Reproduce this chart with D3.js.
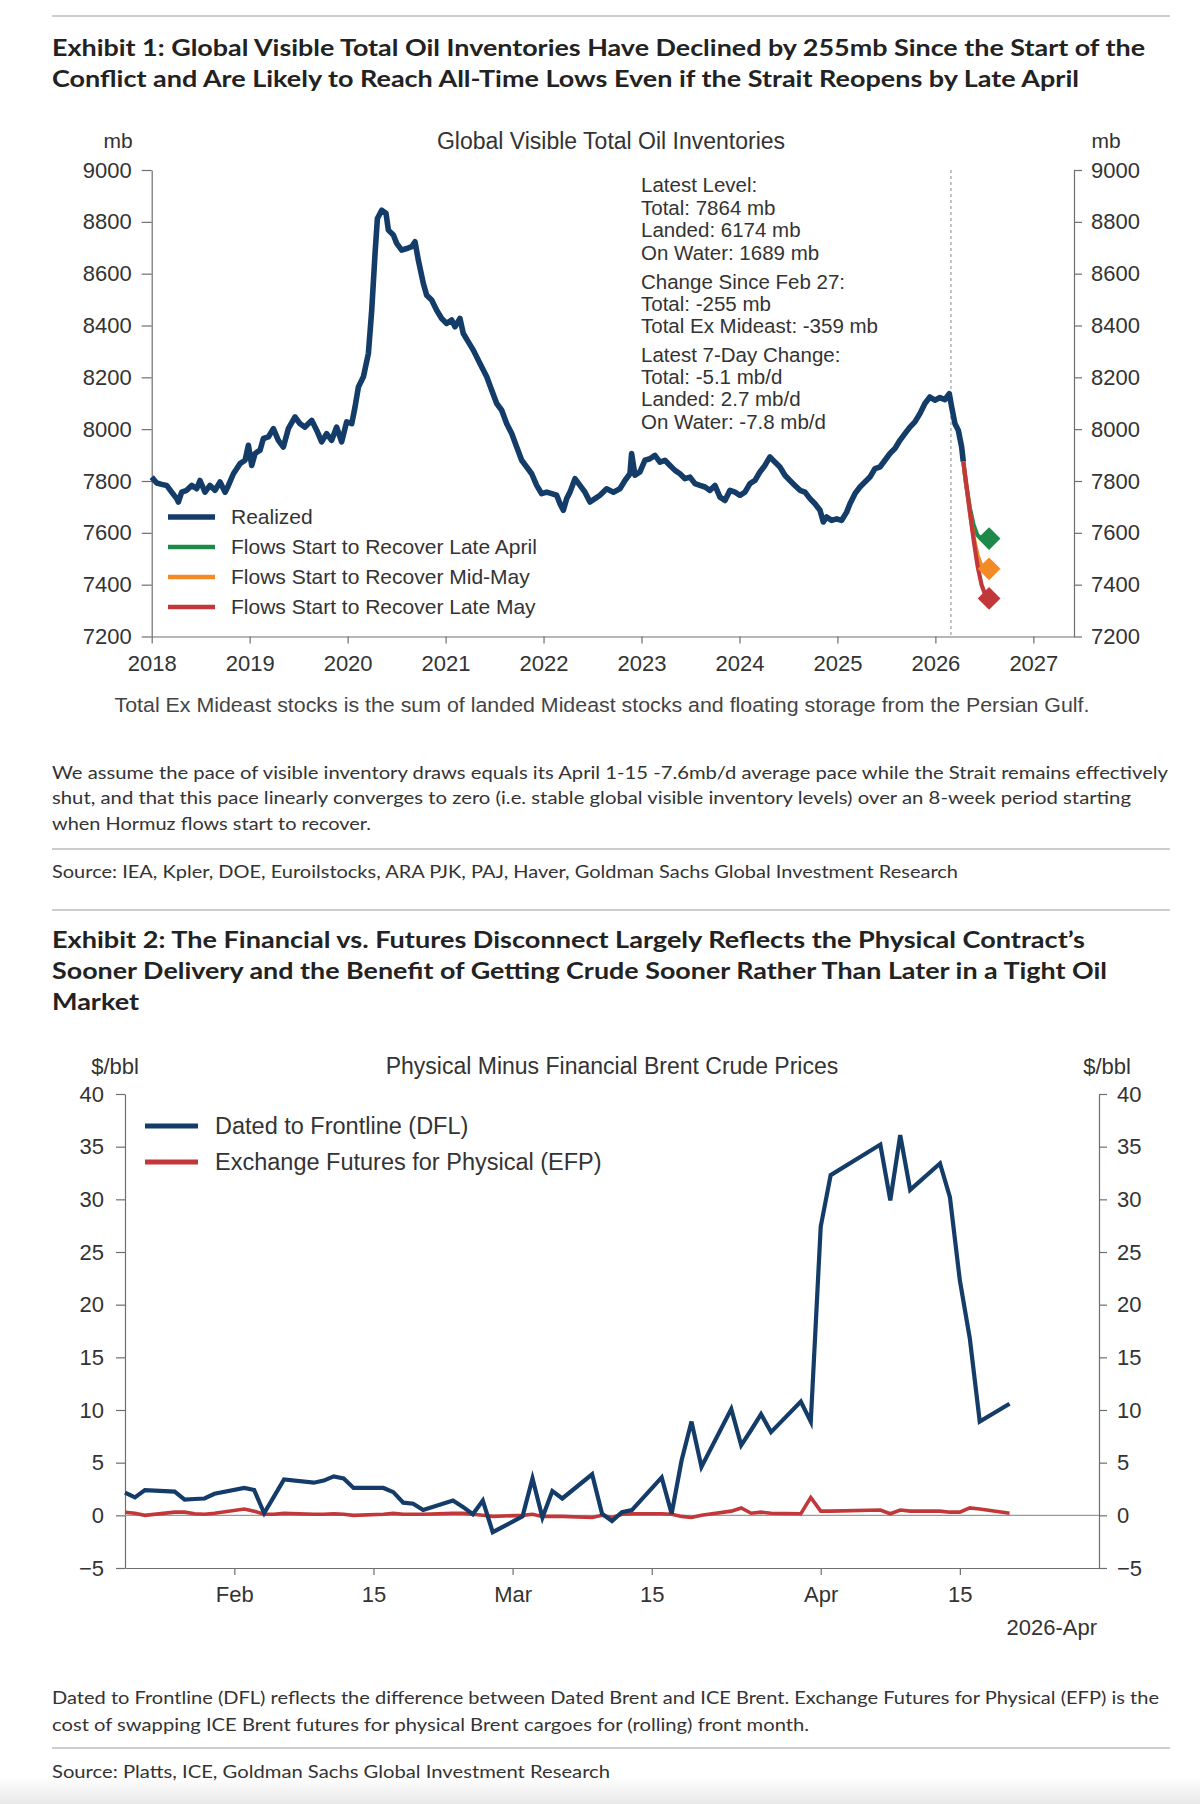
<!DOCTYPE html>
<html>
<head>
<meta charset="utf-8">
<script src="https://d3js.org/d3.v7.min.js"></script>
<style>
  body { margin: 0; background: #fff; }
  svg { display: block; }
</style>
</head>
<body>
<script>
// ---------- Exhibit 1 data: global visible total oil inventories (mb), x in decimal years
var invYears = [
  2018.000, 2018.051, 2018.102, 2018.153, 2018.204, 2018.255, 2018.272, 2018.306, 2018.357, 2018.408,
  2018.459, 2018.493, 2018.544, 2018.595, 2018.646, 2018.698, 2018.749, 2018.783, 2018.834, 2018.902,
  2018.953, 2018.987, 2019.021, 2019.055, 2019.106, 2019.140, 2019.191, 2019.242, 2019.293, 2019.344,
  2019.395, 2019.463, 2019.514, 2019.565, 2019.633, 2019.684, 2019.735, 2019.786, 2019.837, 2019.888,
  2019.939, 2019.990, 2020.042, 2020.076, 2020.110, 2020.161, 2020.212, 2020.246, 2020.280, 2020.304,
  2020.348, 2020.392, 2020.416, 2020.467, 2020.501, 2020.552, 2020.603, 2020.654, 2020.688, 2020.722,
  2020.773, 2020.807, 2020.858, 2020.909, 2020.960, 2021.011, 2021.062, 2021.096, 2021.147, 2021.181,
  2021.232, 2021.283, 2021.351, 2021.420, 2021.471, 2021.522, 2021.573, 2021.624, 2021.675, 2021.726,
  2021.777, 2021.828, 2021.879, 2021.930, 2021.981, 2022.032, 2022.083, 2022.134, 2022.168, 2022.202,
  2022.236, 2022.270, 2022.321, 2022.372, 2022.423, 2022.474, 2022.525, 2022.576, 2022.644, 2022.713,
  2022.780, 2022.831, 2022.882, 2022.899, 2022.933, 2022.984, 2023.035, 2023.086, 2023.137, 2023.188,
  2023.239, 2023.291, 2023.342, 2023.393, 2023.444, 2023.495, 2023.546, 2023.597, 2023.648, 2023.699,
  2023.750, 2023.801, 2023.852, 2023.903, 2023.954, 2024.005, 2024.056, 2024.107, 2024.158, 2024.209,
  2024.260, 2024.311, 2024.362, 2024.413, 2024.464, 2024.515, 2024.566, 2024.618, 2024.669, 2024.720,
  2024.771, 2024.822, 2024.856, 2024.890, 2024.941, 2024.992, 2025.043, 2025.094, 2025.128, 2025.179,
  2025.230, 2025.281, 2025.332, 2025.383, 2025.434, 2025.485, 2025.536, 2025.587, 2025.638, 2025.689,
  2025.740, 2025.791, 2025.842, 2025.893, 2025.944, 2025.995, 2026.046, 2026.097, 2026.142, 2026.166,
  2026.200, 2026.234, 2026.268, 2026.285
];
var invValues = [
  7815, 7792, 7787, 7783, 7757, 7732, 7719, 7757, 7764, 7783,
  7770, 7802, 7757, 7783, 7764, 7796, 7757, 7783, 7828, 7867,
  7880, 7938, 7860, 7906, 7919, 7964, 7970, 8002, 7957, 7931,
  8002, 8047, 8021, 8008, 8034, 7996, 7951, 7983, 7957, 8008,
  7951, 8028, 8021, 8086, 8163, 8202, 8292, 8459, 8678, 8813,
  8845, 8833, 8768, 8749, 8717, 8691, 8697, 8704, 8723, 8652,
  8562, 8517, 8498, 8459, 8427, 8408, 8421, 8395, 8427, 8369,
  8337, 8305, 8253, 8202, 8150, 8099, 8073, 8021, 7983, 7931,
  7880, 7854, 7828, 7783, 7751, 7757, 7751, 7745, 7712, 7687,
  7732, 7757, 7809, 7783, 7757, 7719, 7732, 7745, 7770, 7757,
  7770, 7802, 7828, 7906, 7822, 7835, 7880, 7886, 7899, 7873,
  7880, 7860, 7841, 7828, 7809, 7815, 7790, 7783, 7777, 7764,
  7783, 7738, 7725, 7764, 7757, 7745, 7757, 7790, 7802, 7835,
  7860, 7893, 7873, 7854, 7822, 7802, 7783, 7764, 7757, 7732,
  7712, 7687, 7642, 7661, 7648, 7654, 7648, 7680, 7712, 7751,
  7777, 7796, 7815, 7848, 7854, 7880, 7906, 7925, 7957, 7983,
  8008, 8028, 8060, 8099, 8124, 8112, 8122, 8114, 8137, 8086,
  8021, 7996, 7931, 7875
];

// projection scenarios (decimal year, mb)
var scenarioNames = ["Flows Start to Recover Late April", "Flows Start to Recover Mid-May", "Flows Start to Recover Late May"];
var scenLateAprYears = [2026.285, 2026.312, 2026.351, 2026.389, 2026.427, 2026.466, 2026.548];
var scenLateAprValues = [7875, 7790, 7698, 7632, 7592, 7578, 7578];
var scenMidMayYears = [2026.285, 2026.353, 2026.392, 2026.430, 2026.468, 2026.507, 2026.548];
var scenMidMayValues = [7875, 7674, 7581, 7514, 7474, 7461, 7461];
var scenLateMayYears = [2026.285, 2026.395, 2026.433, 2026.471, 2026.510, 2026.548];
var scenLateMayValues = [7875, 7560, 7467, 7400, 7360, 7347];

var conflictStart = 2026.159; // Feb 27, 2026
var inv_yTicks = [7200, 7400, 7600, 7800, 8000, 8200, 8400, 8600, 8800, 9000];
var inv_xTicks = [2018, 2019, 2020, 2021, 2022, 2023, 2024, 2025, 2026, 2027];

var annotationLines = [
  "Latest Level:", "Total: 7864 mb", "Landed: 6174 mb", "On Water: 1689 mb",
  "Change Since Feb 27:", "Total: -255 mb", "Total Ex Mideast: -359 mb",
  "Latest 7-Day Change:", "Total: -5.1 mb/d", "Landed: 2.7 mb/d", "On Water: -7.8 mb/d"
];

// ---------- Exhibit 2 data: physical minus financial Brent ($/bbl), business days
var brentDates = [
  "2026-01-21", "2026-01-22", "2026-01-23", "2026-01-26", "2026-01-27", "2026-01-28", "2026-01-29", "2026-01-30",
  "2026-02-02", "2026-02-03", "2026-02-04", "2026-02-05", "2026-02-06", "2026-02-09", "2026-02-10", "2026-02-11",
  "2026-02-12", "2026-02-13", "2026-02-16", "2026-02-17", "2026-02-18", "2026-02-19", "2026-02-20", "2026-02-23",
  "2026-02-24", "2026-02-25", "2026-02-26", "2026-02-27",
  "2026-03-02", "2026-03-03", "2026-03-04", "2026-03-05", "2026-03-06", "2026-03-09", "2026-03-10", "2026-03-11",
  "2026-03-12", "2026-03-13", "2026-03-16", "2026-03-17", "2026-03-18", "2026-03-19", "2026-03-20", "2026-03-23",
  "2026-03-24", "2026-03-25", "2026-03-26", "2026-03-27", "2026-03-30", "2026-03-31",
  "2026-04-01", "2026-04-02", "2026-04-07", "2026-04-08", "2026-04-09", "2026-04-10", "2026-04-13", "2026-04-14",
  "2026-04-15", "2026-04-16", "2026-04-17", "2026-04-20"
];
var dflValues = [
  2.15, 1.7, 2.4, 2.25, 1.5, 1.55, 1.6, 2.05,
  2.6, 2.4, 0.2, 1.8, 3.4, 3.1, 3.3, 3.7,
  3.5, 2.6, 2.6, 2.2, 1.2, 1.1, 0.5, 1.4,
  0.8, 0.1, 1.4, -1.6,
  -0.1, 3.5, -0.2, 2.3, 1.6, 3.9, 0.15, -0.55,
  0.3, 0.5, 3.6, 0.15, 5.2, 8.9, 4.6, 10.1,
  6.65, 8.1, 9.6, 7.9, 10.8, 8.9,
  27.4, 32.3, 35.2, 29.9, 36.1, 30.9, 33.4, 30.2,
  22.3, 16.8, 8.9, 10.6
];
var efpValues = [
  0.3, 0.2, 0.0, 0.3, 0.3, 0.15, 0.1, 0.2,
  0.6, 0.4, 0.1, 0.1, 0.2, 0.1, 0.1, 0.15,
  0.1, 0.0, 0.1, 0.2, 0.1, 0.1, 0.1, 0.2,
  0.2, 0.1, 0.0, -0.1,
  0.0, 0.1, -0.1, -0.1, -0.1, -0.2, 0.0, -0.2,
  0.1, 0.15, 0.15, 0.1, -0.1, -0.2, 0.0, 0.4,
  0.7, 0.2, 0.3, 0.2, 0.15, 1.7,
  0.4, 0.4, 0.5, 0.15, 0.5, 0.4, 0.4, 0.3,
  0.3, 0.7, 0.6, 0.2
];
var brentSeriesNames = ["Dated to Frontline (DFL)", "Exchange Futures for Physical (EFP)"];
var brent_yTicks = [-5, 0, 5, 10, 15, 20, 25, 30, 35, 40];
var brent_xTickDates = ["2026-02-01", "2026-02-15", "2026-03-01", "2026-03-15", "2026-04-01", "2026-04-15"];
var brent_xTickLabels = ["Feb", "15", "Mar", "15", "Apr", "15"];

// ---------- page text
var title1 = ["Exhibit 1: Global Visible Total Oil Inventories Have Declined by 255mb Since the Start of the",
              "Conflict and Are Likely to Reach All-Time Lows Even if the Strait Reopens by Late April"];
var note1 = "Total Ex Mideast stocks is the sum of landed Mideast stocks and floating storage from the Persian Gulf.";
var para1 = ["We assume the pace of visible inventory draws equals its April 1-15 -7.6mb/d average pace while the Strait remains effectively",
             "shut, and that this pace linearly converges to zero (i.e. stable global visible inventory levels) over an 8-week period starting",
             "when Hormuz flows start to recover."];
var source1 = "Source: IEA, Kpler, DOE, Euroilstocks, ARA PJK, PAJ, Haver, Goldman Sachs Global Investment Research";
var title2 = ["Exhibit 2: The Financial vs. Futures Disconnect Largely Reflects the Physical Contract\u2019s",
              "Sooner Delivery and the Benefit of Getting Crude Sooner Rather Than Later in a Tight Oil",
              "Market"];
var para2 = ["Dated to Frontline (DFL) reflects the difference between Dated Brent and ICE Brent. Exchange Futures for Physical (EFP) is the",
             "cost of swapping ICE Brent futures for physical Brent cargoes for (rolling) front month."];
var source2 = "Source: Platts, ICE, Goldman Sachs Global Investment Research";

// ---------- drawing
var navy = "#143c69", green = "#1e8a4a", orange = "#f28a26", red = "#c2383a";
var axisColor = "#6e6e6e", chartText = "#333";
var chartFont = "'Liberation Sans', Arial, sans-serif";
var bodyFont = "Lato, 'Open Sans', sans-serif";

var svg = d3.select("body").append("svg").attr("width", 1200).attr("height", 1804);

var grad = svg.append("defs").append("linearGradient").attr("id", "foot")
  .attr("x1", 0).attr("y1", 0).attr("x2", 0).attr("y2", 1);
grad.append("stop").attr("offset", "0%").attr("stop-color", "#ffffff");
grad.append("stop").attr("offset", "100%").attr("stop-color", "#e9e9e9");
svg.append("rect").attr("x", 0).attr("y", 1776).attr("width", 1200).attr("height", 28).attr("fill", "url(#foot)");

function rule(y) {
  svg.append("line").attr("x1", 52).attr("x2", 1170).attr("y1", y).attr("y2", y)
    .attr("stroke", "#cdcdcd").attr("stroke-width", 2);
}

function textLines(lines, x, ys, o) {
  lines.forEach(function (t, i) {
    var el = svg.append("text").attr("x", x).attr("y", ys[i]).attr("dy", "0.35em")
      .attr("font-family", o.font).attr("font-size", o.size)
      .attr("font-weight", o.weight || 400).attr("fill", o.color)
      .attr("text-anchor", o.anchor || "start").text(t);
    if (o.widths && o.widths[i]) el.attr("textLength", o.widths[i]).attr("lengthAdjust", "spacingAndGlyphs");
  });
}

function styleAxis(g, size) {
  g.selectAll("path, line").attr("stroke", axisColor).attr("stroke-width", 1.2);
  g.selectAll("text").attr("fill", chartText).attr("font-family", chartFont).attr("font-size", size);
}

rule(16);
textLines(title1, 52, [48, 79], {font: bodyFont, size: 22.5, weight: 700, color: "#222", widths: [1093, 1027]});

// ---- Exhibit 1 chart
var x1 = d3.scaleLinear().domain([2018, 2027.415]).range([151.7, 1074]);
var y1 = d3.scaleLinear().domain([7200, 9000]).range([636.5, 170]);

textLines(["mb"], 118, [141], {font: chartFont, size: 21, color: chartText, anchor: "middle"});
textLines(["mb"], 1106, [141], {font: chartFont, size: 21, color: chartText, anchor: "middle"});
textLines(["Global Visible Total Oil Inventories"], 611, [141], {font: chartFont, size: 23, color: chartText, anchor: "middle"});

var gl1 = svg.append("g").attr("transform", "translate(151.7,0)")
  .call(d3.axisLeft(y1).tickValues(inv_yTicks).tickSize(10).tickPadding(10).tickSizeOuter(0).tickFormat(d3.format("d")));
styleAxis(gl1, 22);
var gr1 = svg.append("g").attr("transform", "translate(1074,0)")
  .call(d3.axisRight(y1).tickValues(inv_yTicks).tickSize(8).tickPadding(9).tickSizeOuter(0).tickFormat(d3.format("d")));
styleAxis(gr1, 22);
var gb1 = svg.append("g").attr("transform", "translate(0," + y1(7200) + ")")
  .call(d3.axisBottom(x1).tickValues(inv_xTicks).tickSize(7).tickPadding(12).tickSizeOuter(0).tickFormat(d3.format("d")));
styleAxis(gb1, 22);

svg.append("line").attr("x1", x1(conflictStart)).attr("x2", x1(conflictStart))
  .attr("y1", y1(9000)).attr("y2", y1(7200))
  .attr("stroke", "#8a8a8a").attr("stroke-width", 1).attr("stroke-dasharray", "3,3");

textLines(annotationLines, 641, [185, 208, 230, 252.5, 281.5, 303.5, 325.5, 355, 377, 399, 421.5],
  {font: chartFont, size: 20.5, color: chartText});

var line1 = d3.line().x(function (d) { return x1(d[0]); }).y(function (d) { return y1(d[1]); });

svg.append("path").datum(d3.zip(invYears, invValues)).attr("d", line1)
  .attr("fill", "none").attr("stroke", navy).attr("stroke-width", 5.6).attr("stroke-linejoin", "round");

var scenarios = [
  {years: scenLateAprYears, values: scenLateAprValues, color: green},
  {years: scenMidMayYears, values: scenMidMayValues, color: orange},
  {years: scenLateMayYears, values: scenLateMayValues, color: red}
];
scenarios.forEach(function (s) {
  svg.append("path").datum(d3.zip(s.years, s.values)).attr("d", line1)
    .attr("fill", "none").attr("stroke", s.color).attr("stroke-width", 4.2).attr("stroke-linejoin", "round");
});
scenarios.forEach(function (s) {
  var n = s.years.length - 1;
  svg.append("path").attr("d", d3.symbol().type(d3.symbolSquare).size(260)())
    .attr("transform", "translate(" + x1(s.years[n]) + "," + y1(s.values[n]) + ") rotate(45)")
    .attr("fill", s.color);
});

// legend exhibit 1
var leg1 = [{name: "Realized", color: navy, w: 5.5}].concat(scenarioNames.map(function (n, i) {
  return {name: n, color: scenarios[i].color, w: 4.5};
}));
leg1.forEach(function (d, i) {
  var yy = 517 + i * 30;
  svg.append("line").attr("x1", 168).attr("x2", 215).attr("y1", yy).attr("y2", yy)
    .attr("stroke", d.color).attr("stroke-width", d.w);
  textLines([d.name], 231, [yy], {font: chartFont, size: 21, color: chartText});
});

textLines([note1], 602, [705], {font: chartFont, size: 20.5, color: "#444", anchor: "middle", widths: [975]});

textLines(para1, 52, [773, 798, 824], {font: bodyFont, size: 18, color: "#333", widths: [1116, 1079, 319]});
rule(849);
textLines([source1], 52, [871.5], {font: bodyFont, size: 18, color: "#333", widths: [906]});
rule(910);
textLines(title2, 52, [940, 971, 1002], {font: bodyFont, size: 22.5, weight: 700, color: "#222", widths: [1033, 1055, 87]});

// ---- Exhibit 2 chart
var parseD = d3.timeParse("%Y-%m-%d");
var x2 = d3.scaleTime().domain([parseD("2026-01-21"), parseD("2026-04-29")]).range([125, 1099]);
var y2 = d3.scaleLinear().domain([-5, 40]).range([1568, 1094]);

textLines(["$/bbl"], 115, [1066], {font: chartFont, size: 22, color: chartText, anchor: "middle"});
textLines(["$/bbl"], 1107, [1066], {font: chartFont, size: 22, color: chartText, anchor: "middle"});
textLines(["Physical Minus Financial Brent Crude Prices"], 612, [1066], {font: chartFont, size: 23, color: chartText, anchor: "middle"});

var gl2 = svg.append("g").attr("transform", "translate(125,0)")
  .call(d3.axisLeft(y2).tickValues(brent_yTicks).tickSize(9).tickPadding(12).tickSizeOuter(0));
styleAxis(gl2, 22);
var gr2 = svg.append("g").attr("transform", "translate(1099,0)")
  .call(d3.axisRight(y2).tickValues(brent_yTicks).tickSize(8).tickPadding(10).tickSizeOuter(0));
styleAxis(gr2, 22);
var tickDates = brent_xTickDates.map(parseD);
var gb2 = svg.append("g").attr("transform", "translate(0," + y2(-5) + ")")
  .call(d3.axisBottom(x2).tickValues(tickDates).tickSize(7).tickPadding(11).tickSizeOuter(0)
    .tickFormat(function (d, i) { return brent_xTickLabels[i]; }));
styleAxis(gb2, 22);
textLines(["2026-Apr"], 1097, [1627], {font: chartFont, size: 22, color: chartText, anchor: "end"});

svg.append("line").attr("x1", 125).attr("x2", 1099).attr("y1", y2(0)).attr("y2", y2(0))
  .attr("stroke", "#9a9a9a").attr("stroke-width", 1.2);

var bDates = brentDates.map(parseD);
var line2 = d3.line().x(function (d) { return x2(d[0]); }).y(function (d) { return y2(d[1]); });
svg.append("path").datum(d3.zip(bDates, efpValues)).attr("d", line2)
  .attr("fill", "none").attr("stroke", red).attr("stroke-width", 3.6);
svg.append("path").datum(d3.zip(bDates, dflValues)).attr("d", line2)
  .attr("fill", "none").attr("stroke", navy).attr("stroke-width", 4.2);

[navy, red].forEach(function (c, i) {
  var yy = 1126 + i * 36;
  svg.append("line").attr("x1", 145).attr("x2", 198).attr("y1", yy).attr("y2", yy)
    .attr("stroke", c).attr("stroke-width", 4.8);
  textLines([brentSeriesNames[i]], 215, [yy], {font: chartFont, size: 23.5, color: chartText});
});

textLines(para2, 52, [1698, 1724.5], {font: bodyFont, size: 18, color: "#333", widths: [1107, 757]});
rule(1748);
textLines([source2], 52, [1772], {font: bodyFont, size: 18, color: "#333", widths: [558]});
</script>
</body>
</html>
